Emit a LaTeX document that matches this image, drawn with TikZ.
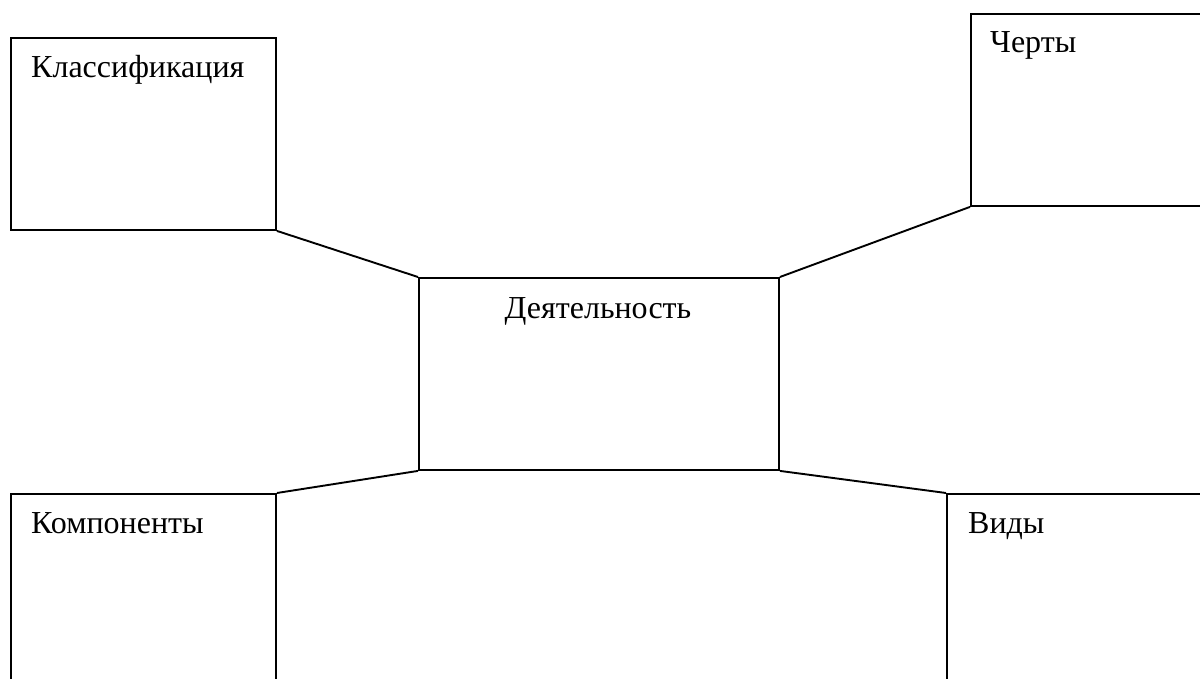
\documentclass[tikz,border=0pt]{standalone}
\usepackage{fontspec}
\setmainfont{Liberation Serif}
\usetikzlibrary{positioning}

\begin{document}
\begin{tikzpicture}[x=1pt,y=-1pt,
  b/.style={draw,line width=1.9pt,rectangle,inner sep=0pt,anchor=north west},
  t/.style={font=\fontsize{32}{38}\selectfont,inner sep=0pt},
  l/.style={line width=1.9pt}]
\useasboundingbox (0,0) rectangle (1200,679);
\clip (0,0) rectangle (1200,679);
\node[b,minimum width=265pt,minimum height=192pt] (klass) at (10,37) {};
\node[b,minimum width=250pt,minimum height=192pt] (cherty) at (970,13) {};
\node[b,minimum width=360pt,minimum height=192pt] (deyat) at (418,277) {};
\node[b,minimum width=265pt,minimum height=200pt] (komp) at (10,493) {};
\node[b,minimum width=270pt,minimum height=200pt] (vidy) at (946,493) {};
\node[t,anchor=base west] (klassT) at (31,78) {Классификация};
\node[t,anchor=base west] (chertyT) at (990,53) {Черты};
\node[t,anchor=base] (deyatT) at (598,318) {Деятельность};
\node[t,anchor=base west] (kompT) at (31,533) {Компоненты};
\node[t,anchor=base west] (vidyT) at (968,533) {Виды};
\draw[l] (klass.south east)--(deyat.north west);
\draw[l] (cherty.south west)--(deyat.north east);
\draw[l] (deyat.south west)--(komp.north east);
\draw[l] (deyat.south east)--(vidy.north west);
\end{tikzpicture}
\end{document}
